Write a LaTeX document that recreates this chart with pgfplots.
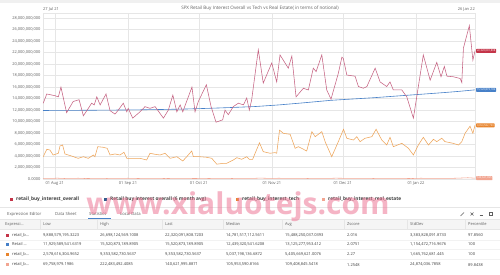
\documentclass[border=0pt]{standalone}
\usepackage{pgfplots}
\pgfplotsset{compat=1.18}
\usepackage{fontspec}
\setmainfont{Open Sans}
\definecolor{cRed}{RGB}{198,98,130}
\definecolor{cRedSq}{RGB}{196,52,72}
\definecolor{cBlue}{RGB}{70,128,200}
\definecolor{cOrange}{RGB}{238,165,90}
\definecolor{cOrangeSq}{RGB}{232,132,44}
\definecolor{cSalmon}{RGB}{242,165,145}
\definecolor{gridc}{RGB}{230,230,230}
\definecolor{txt}{RGB}{95,95,95}
\definecolor{dtxt}{RGB}{60,60,60}
\definecolor{wm}{RGB}{238,120,150}
\newcommand\tf{\fontsize{4}{4.5}\selectfont}
\begin{document}
\begin{tikzpicture}
\path[use as bounding box, fill=white] (0pt,0pt) rectangle (500pt,274pt);
\fill[black!6] (0pt,271.5pt) rectangle (500pt,274pt);
\begin{axis}[
  at={(43pt,95pt)}, anchor=south west, scale only axis,
  width=432pt, height=166pt,
  xmin=0, xmax=183, ymin=0, ymax=28.9,
  clip=false,
  axis line style={draw=gridc},
  xmajorgrids, ymajorgrids, grid style={gridc, line width=0.35pt},
  tick style={draw=none},
  xtick={5,36,66,97,127,158},
  xticklabels={01 Aug 21,01 Sep 21,01 Oct 21,01 Nov 21,01 Dec 21,01 Jan 22},
  ytick={0,2,...,28},
  yticklabels={{0.0000},{2,000,000,000},{4,000,000,000},{6,000,000,000},{8,000,000,000},{10,000,000,000},{12,000,000,000},{14,000,000,000},{16,000,000,000},{18,000,000,000},{20,000,000,000},{22,000,000,000},{24,000,000,000},{26,000,000,000},{28,000,000,000}},
  tick label style={font=\fontsize{4}{4.5}\selectfont, text=txt},
  yticklabel style={xshift=1pt},
  xticklabel style={yshift=1pt},
]
\addplot[cSalmon, line width=0.55pt] coordinates {
(0,0.12)(3,0.10)(6,0.14)(9,0.09)(12,0.11)(15,0.13)(18,0.08)(21,0.10)(24,0.12)(27,0.09)(30,0.11)(33,0.10)(36,0.13)(40,0.09)(44,0.10)(48,0.12)(52,0.08)(56,0.11)(60,0.10)(64,0.09)(68,0.07)(72,0.10)(76,0.12)(80,0.09)(84,0.11)(88,0.10)(92,0.15)(96,0.11)(100,0.13)(104,0.10)(108,0.12)(112,0.09)(116,0.11)(120,0.10)(124,0.14)(128,0.12)(132,0.10)(136,0.11)(140,0.09)(144,0.12)(148,0.10)(152,0.11)(156,0.08)(160,0.13)(164,0.11)(168,0.12)(172,0.10)(176,0.15)(180,0.22)(183,0.14)};
\addplot[cOrange, line width=0.55pt] coordinates {
(0.1,3.88)(1.6,5.17)(2.9,5.05)(4.3,4.18)(6.5,4.48)(7.2,5.75)(8.3,5.92)(9.3,4.36)(12.1,4.0)(14.9,3.6)(17.1,3.88)(19.2,3.6)(21.3,4.18)(22.0,3.88)(23.2,5.63)(25.5,5.52)(27.2,5.34)(28.4,4.18)(30.5,4.36)(32.6,4.18)(34.3,4.65)(35.5,3.6)(38.3,3.6)(41.1,3.6)(43.9,3.31)(45.3,4.48)(47.5,4.3)(49.6,4.18)(51.7,4.48)(53.8,3.6)(56.7,3.88)(59.2,3.14)(60.9,3.88)(63.0,4.88)(63.7,3.88)(66.5,3.88)(69.4,3.78)(71.5,3.6)(73.6,2.58)(76.4,2.73)(77.8,2.73)(80.6,3.31)(82.1,3.71)(84.2,3.43)(86.3,3.88)(87.4,3.43)(88.8,3.43)(91.7,6.3)(93.3,4.76)(96.2,4.48)(98.3,4.6)(99.0,4.48)(100.2,8.5)(101.8,7.96)(104.7,7.78)(106.8,5.35)(108.2,5.63)(111.7,4.88)(113.9,8.24)(115.3,7.37)(118.1,8.24)(119.5,6.5)(122.3,3.88)(125.1,6.5)(127.3,8.66)(128.7,7.09)(131.5,6.79)(132.9,7.37)(134.3,6.5)(136.4,7.09)(139.3,7.37)(141.1,8.66)(143.5,6.79)(145.6,5.92)(147.0,7.26)(148.4,5.63)(152.0,6.21)(154.8,5.35)(156.9,4.18)(159.0,5.92)(161.1,7.26)(163.3,5.92)(165.4,6.91)(166.8,6.5)(168.9,7.09)(170.3,6.5)(173.8,6.21)(176.0,5.92)(177.4,6.5)(178.8,7.96)(180.9,9.2)(182.1,7.96)(183.0,9.353)};
\addplot[cBlue, line width=0.6pt] coordinates {
(0,11.93)(10,11.95)(20,11.97)(30,12.0)(40,12.04)(50,12.1)(60,12.18)(70,12.3)(80,12.45)(90,12.62)(100,12.9)(110,13.25)(122,13.7)(130,13.9)(140,14.15)(150,14.45)(160,14.75)(170,15.05)(176,15.25)(183,15.52)};
\addplot[cRed, line width=0.55pt] coordinates {
(0.1,13.2)(1.6,14.8)(5.1,14.5)(6.5,14.3)(7.6,16.0)(10.0,11.55)(12.8,13.5)(15.3,13.8)(17.1,11.0)(19.2,12.3)(20.6,13.2)(21.7,12.9)(22.8,14.3)(24.2,12.9)(26.7,14.8)(28.4,11.9)(30.5,11.3)(31.9,12.0)(34.0,13.2)(35.5,11.7)(36.1,12.3)(38.0,10.6)(41.1,11.7)(43.2,12.6)(45.3,12.3)(47.5,12.6)(51.0,10.6)(53.1,12.0)(55.0,14.6)(56.7,11.7)(58.1,12.9)(59.2,11.7)(63.1,16.0)(64.4,11.7)(65.8,13.5)(69.2,16.4)(71.2,12.6)(73.3,9.89)(76.1,10.3)(77.1,12.0)(78.5,11.2)(80.6,12.6)(82.8,13.2)(84.9,12.9)(86.3,14.1)(87.4,12.0)(88.4,13.8)(91.2,22.5)(93.3,16.7)(96.9,20.2)(99.0,16.9)(100.4,21.6)(103.9,19.3)(105.4,21.4)(107.2,14.3)(110.3,15.8)(112.4,15.5)(114.5,19.3)(115.7,18.7)(118.1,21.6)(120.2,15.5)(122.0,13.9)(125.1,18.4)(126.6,21.2)(127.2,21.0)(128.7,18.1)(132.2,17.9)(133.6,16.1)(135.7,15.8)(137.2,16.1)(140.7,19.3)(142.8,16.9)(145.6,16.1)(147.0,16.9)(148.4,15.5)(152.0,15.5)(154.1,14.3)(156.9,10.6)(161.1,21.6)(164.0,17.2)(166.8,20.3)(168.6,17.8)(170.0,19.6)(171.1,17.9)(173.8,17.8)(176.7,17.5)(177.4,16.8)(178.1,22.8)(180.6,26.7)(182.1,20.7)(183.0,22.32)};
% value tags
\tikzset{tag/.style={anchor=west, xshift=1pt, inner xsep=0.8pt, inner ysep=0.9pt, rounded corners=0.6pt, text=white, font=\fontsize{2.6}{3}\selectfont}}
\node[tag, fill=cRedSq] at (axis cs:183,22.32) {22,320,091,808};
\node[tag, fill=cBlue] at (axis cs:183,15.52) {15,520,873,189};
\node[tag, fill=cOrangeSq] at (axis cs:183,9.353) {9,353,582,730};
\node[tag, fill=cSalmon] at (axis cs:183,0.14) {140,621,995};
\end{axis}
% top texts
\node[anchor=south west, font=\fontsize{4}{4.5}\selectfont, text=txt, inner sep=0pt] at (43pt,263pt) {27 Jul 21};
\node[anchor=south east, font=\fontsize{4}{4.5}\selectfont, text=txt, inner sep=0pt] at (475pt,263pt) {26 Jan 22};
\node[font=\fontsize{4.6}{5}\selectfont, text=txt, inner sep=0pt] at (260pt,266pt) {SPX Retail Buy Interest Overall vs Tech vs Real Estate( in terms of notional)};
% legend
\tikzset{lg/.style={anchor=west, inner sep=0pt, font=\fontsize{4.8}{5}\selectfont\bfseries, text=dtxt}}
\fill[cRedSq] (10pt,73.5pt) rectangle (13pt,76.5pt);
\node[lg] at (16pt,75pt) {retail\_buy\_interest\_overall};
\fill[cBlue!70!black] (104pt,73.5pt) rectangle (107pt,76.5pt);
\node[lg] at (110pt,75pt) {Retail buy interest overall (6 month avg)};
\fill[cOrangeSq] (236pt,73.5pt) rectangle (239pt,76.5pt);
\node[lg] at (242pt,75pt) {retail\_buy\_interest\_tech};
\fill[cSalmon] (322pt,73.5pt) rectangle (325pt,76.5pt);
\node[lg] at (328pt,75pt) {retail\_buy\_interest\_real\_estate};
% separator and tabs
\draw[gridc, line width=0.5pt] (0pt,67pt) -- (500pt,67pt);
\tikzset{tb/.style={anchor=west, inner sep=0pt, font=\fontsize{4.2}{4.5}\selectfont, text=txt}}
\node[tb] at (7pt,60pt) {Expression Editor};
\node[tb] at (55pt,60pt) {Data Sheet};
\node[tb] at (89pt,60pt) {Statistics};
\draw[cBlue, line width=0.6pt] (88pt,56pt) -- (111pt,56pt);
\node[tb] at (120pt,60pt) {Local Data};
% icons
\draw[txt, line width=0.5pt] (460.5pt,58pt) -- (464pt,61.5pt);
\draw[txt, line width=0.4pt] (470.5pt,58.5pt) -- (473.5pt,61.5pt) (470.5pt,61.5pt) -- (473.5pt,58.5pt);
\draw[txt, line width=0.4pt] (479.5pt,59pt) -- (482.5pt,59pt);
\draw[txt, line width=0.4pt] (489.5pt,58.5pt) rectangle (492.5pt,61.5pt);
% table header
\fill[black!4] (0pt,45pt) rectangle (500pt,54.5pt);
\draw[gridc, line width=0.4pt] (0pt,54.5pt) -- (500pt,54.5pt);
\draw[gridc, line width=0.4pt] (0pt,45pt) -- (500pt,45pt);
\foreach \xx in {40,97,162,223,282,344,407,465} {\draw[gridc, line width=0.4pt] (\xx pt,45pt) -- (\xx pt,54.5pt);}
\tikzset{th/.style={anchor=west, inner sep=0pt, font=\tf, text=txt}}
\node[th] at (5pt,49.7pt) {Expressi...};
\node[th] at (43pt,49.7pt) {Low};
\node[th] at (100pt,49.7pt) {High};
\node[th] at (165pt,49.7pt) {Last};
\node[th] at (226pt,49.7pt) {Median};
\node[th] at (285pt,49.7pt) {Avg};
\node[th] at (347pt,49.7pt) {Zscore};
\node[th] at (410pt,49.7pt) {StdDev};
\node[th] at (468pt,49.7pt) {Percentile};
% rows
\foreach \yy in {34.3,24.8,14.6} {\draw[black!5, line width=0.4pt] (0pt,\yy pt) -- (500pt,\yy pt);}
\tikzset{td/.style={anchor=west, inner sep=0pt, font=\tf, text=dtxt}}
\fill[cRedSq] (5.5pt,37.5pt) rectangle (8.5pt,40.5pt);
\node[td] at (12pt,39pt) {retail\_b...};
\node[td] at (43pt,39pt) {9,888,579,195.3223};
\node[td] at (100pt,39pt) {26,698,124,569.1008};
\node[td] at (165pt,39pt) {22,320,091,808.7203};
\node[td] at (226pt,39pt) {14,781,517,112.5611};
\node[td] at (285pt,39pt) {15,488,250,037.0393};
\node[td] at (347pt,39pt) {2.016};
\node[td] at (410pt,39pt) {3,383,828,091.8733};
\node[td] at (468pt,39pt) {97.8560};
\fill[cBlue] (5.5pt,28.2pt) rectangle (8.5pt,31.2pt);
\node[td] at (12pt,29.7pt) {Retail ...};
\node[td] at (43pt,29.7pt) {11,929,589,541.6319};
\node[td] at (100pt,29.7pt) {15,520,873,189.8905};
\node[td] at (165pt,29.7pt) {15,520,873,189.8905};
\node[td] at (226pt,29.7pt) {12,439,320,541.6208};
\node[td] at (285pt,29.7pt) {13,125,277,953.412};
\node[td] at (347pt,29.7pt) {2.0751};
\node[td] at (410pt,29.7pt) {1,154,472,716.9676};
\node[td] at (468pt,29.7pt) {100};
\fill[cOrangeSq] (5.5pt,18.5pt) rectangle (8.5pt,21.5pt);
\node[td] at (12pt,20pt) {retail\_b...};
\node[td] at (43pt,20pt) {2,578,616,304.9652};
\node[td] at (100pt,20pt) {9,353,582,730.5637};
\node[td] at (165pt,20pt) {9,353,582,730.5637};
\node[td] at (226pt,20pt) {5,037,198,136.6872};
\node[td] at (285pt,20pt) {5,405,669,621.0076};
\node[td] at (347pt,20pt) {2.27};
\node[td] at (410pt,20pt) {1,665,762,681.445};
\node[td] at (468pt,20pt) {100};
\fill[cSalmon] (5.5pt,7.8pt) rectangle (8.5pt,10.8pt);
\node[td] at (12pt,9.3pt) {retail\_b...};
\node[td] at (43pt,9.3pt) {69,758,979.1986};
\node[td] at (100pt,9.3pt) {222,483,492.4085};
\node[td] at (165pt,9.3pt) {140,621,995.8871};
\node[td] at (226pt,9.3pt) {105,953,590.8166};
\node[td] at (285pt,9.3pt) {109,408,845.5418};
\node[td] at (347pt,9.3pt) {1.2548};
\node[td] at (410pt,9.3pt) {24,874,036.7858};
\node[td] at (468pt,9.3pt) {89.8438};
% watermark
\node[text=wm, opacity=0.55, font=\fontsize{30}{30}\selectfont\bfseries, inner sep=0pt] at (238pt,67pt) {www.xialuotejs.com};
\end{tikzpicture}
\end{document}
